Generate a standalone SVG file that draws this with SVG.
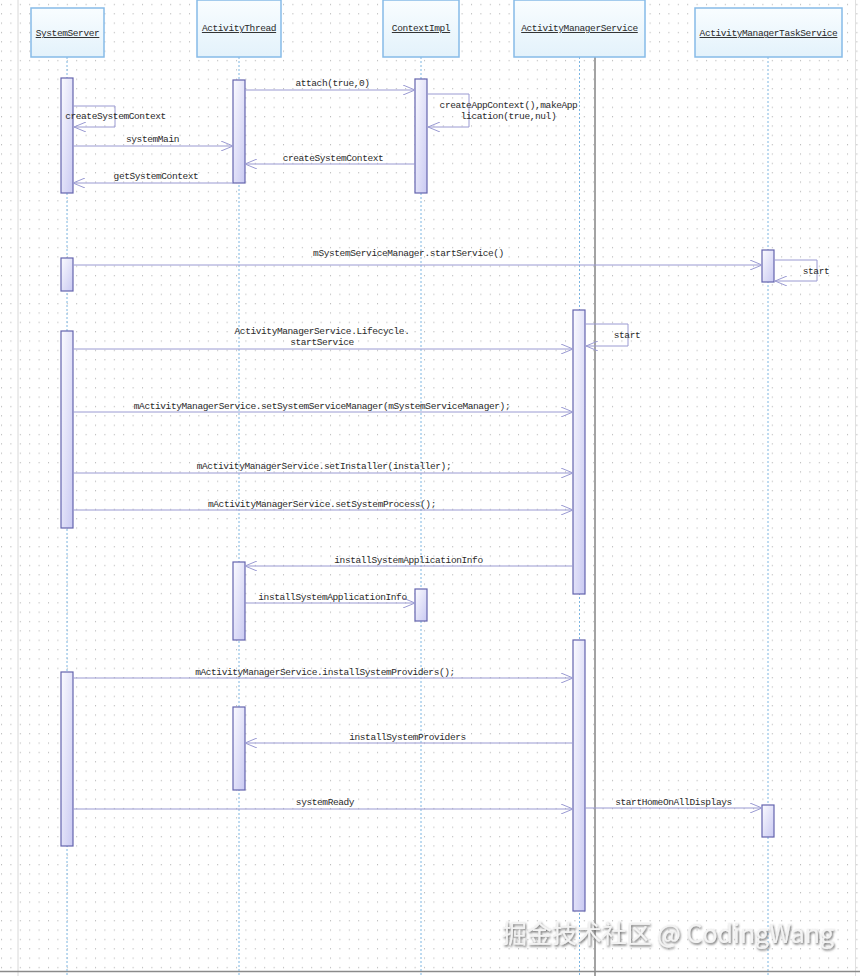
<svg xmlns="http://www.w3.org/2000/svg" width="860" height="976" viewBox="0 0 860 976">
<defs>
<pattern id="dots" x="1" y="1" width="9.4" height="9.35" patternUnits="userSpaceOnUse">
<rect x="0" y="3" width="1" height="1" fill="#a9a9a9"/>
</pattern>
<linearGradient id="barFill" x1="0" y1="0" x2="1" y2="1">
<stop offset="0" stop-color="#fbfbff"/>
<stop offset="1" stop-color="#c9c9f2"/>
</linearGradient>
<linearGradient id="headFill" x1="0" y1="0" x2="0" y2="1">
<stop offset="0" stop-color="#f9fdff"/>
<stop offset="1" stop-color="#e3f2fb"/>
</linearGradient>
<marker id="open" viewBox="0 0 12 10" refX="12" refY="5" markerWidth="12" markerHeight="10" markerUnits="userSpaceOnUse" orient="auto">
<path d="M0,0 L12,5 L0,10" fill="none" stroke="#9a9ad2" stroke-width="1"/>
</marker>
<filter id="shadow" x="-5%" y="-20%" width="110%" height="150%">
<feDropShadow dx="1" dy="1.5" stdDeviation="0.8" flood-color="#555" flood-opacity="0.9"/>
</filter>
</defs>
<style>
.head{fill:url(#headFill);stroke:#86bbe8;stroke-width:1.5}
.bar{fill:url(#barFill);stroke:#6464ae;stroke-width:1.2}
.life{stroke:#7db6e2;stroke-width:1;stroke-dasharray:2,2;fill:none}
.msg{stroke:#9a9ad2;stroke-width:1;fill:none;marker-end:url(#open)}
.t{font-family:"Liberation Mono",monospace;font-size:9.5px;letter-spacing:-0.4px;fill:#2a2a2a;text-anchor:middle}
.h{text-decoration:underline}
</style>
<rect x="0" y="0" width="860" height="976" fill="#ffffff"/>
<rect x="0" y="0" width="860" height="976" fill="url(#dots)"/>
<line x1="18" y1="0" x2="18" y2="976" stroke="#d8d8d8" stroke-width="1"/>
<line x1="855.5" y1="0" x2="855.5" y2="976" stroke="#e0e0e0" stroke-width="1"/>
<line x1="595" y1="57" x2="595" y2="976" stroke="#a3a3a3" stroke-width="2"/>
<line x1="0" y1="971.5" x2="860" y2="971.5" stroke="#8a8a8a" stroke-width="1.5"/>

<g id="SystemServer">
<line class="life" x1="67" y1="57" x2="67" y2="976"/>
<rect class="head" x="31" y="8" width="73" height="49"/>
<text class="t h" x="67.5" y="36">SystemServer</text>
<rect class="bar" x="61" y="78" width="12" height="115"/>
<rect class="bar" x="61" y="258" width="12" height="33"/>
<rect class="bar" x="61" y="331" width="12" height="197"/>
<rect class="bar" x="61" y="672" width="12" height="174"/>
</g>
<g id="ActivityThread">
<line class="life" x1="239" y1="57" x2="239" y2="976"/>
<rect class="head" x="197" y="0" width="84" height="57"/>
<text class="t h" x="239" y="31">ActivityThread</text>
<rect class="bar" x="233" y="80" width="12" height="103"/>
<rect class="bar" x="233" y="562" width="12" height="78"/>
<rect class="bar" x="233" y="707" width="12" height="83"/>
</g>
<g id="ContextImpl">
<line class="life" x1="421" y1="57" x2="421" y2="976"/>
<rect class="head" x="383" y="0" width="76" height="57"/>
<text class="t h" x="421" y="31">ContextImpl</text>
<rect class="bar" x="415" y="79" width="12" height="114"/>
<rect class="bar" x="415" y="589" width="12" height="32"/>
</g>
<g id="ActivityManagerService">
<line class="life" x1="579.5" y1="57" x2="579.5" y2="976"/>
<rect class="head" x="514" y="0" width="131" height="57"/>
<text class="t h" x="579.5" y="31">ActivityManagerService</text>
<rect class="bar" x="573" y="310" width="12" height="284"/>
<rect class="bar" x="573" y="640" width="12" height="271"/>
</g>
<g id="ActivityManagerTaskService">
<line class="life" x1="768" y1="57" x2="768" y2="976"/>
<rect class="head" x="695" y="8" width="147" height="49"/>
<text class="t h" x="768.5" y="36">ActivityManagerTaskService</text>
<rect class="bar" x="762" y="250" width="12" height="32"/>
<rect class="bar" x="762" y="805" width="12" height="32"/>
</g>

<g id="connectors">
<polyline class="msg" points="73,106 115,106 115,127 74,127"/>
<line class="msg" x1="73" y1="146" x2="233" y2="146"/>
<line class="msg" x1="245" y1="90" x2="415" y2="90"/>
<polyline class="msg" points="427,94 469,94 469,127 428,127"/>
<line class="msg" x1="415" y1="164" x2="245" y2="164"/>
<line class="msg" x1="233" y1="183" x2="73" y2="183"/>
<line class="msg" x1="73" y1="265" x2="762" y2="265"/>
<polyline class="msg" points="774,260 817,260 817,281 775,281"/>
<polyline class="msg" points="585,324 628,324 628,346 586,346"/>
<line class="msg" x1="73" y1="349" x2="573" y2="349"/>
<line class="msg" x1="73" y1="412" x2="573" y2="412"/>
<line class="msg" x1="73" y1="473" x2="573" y2="473"/>
<line class="msg" x1="73" y1="510" x2="573" y2="510"/>
<line class="msg" x1="573" y1="566" x2="245" y2="566"/>
<line class="msg" x1="245" y1="603" x2="415" y2="603"/>
<line class="msg" x1="73" y1="678" x2="573" y2="678"/>
<line class="msg" x1="573" y1="743" x2="245" y2="743"/>
<line class="msg" x1="73" y1="809" x2="573" y2="809"/>
<line class="msg" x1="585" y1="808" x2="762" y2="808"/>

<text class="t" x="115.5" y="119">createSystemContext</text>
<text class="t" x="152.5" y="142">systemMain</text>
<text class="t" x="332.5" y="86">attach(true,0)</text>
<text class="t" x="508.5" y="108">createAppContext(),makeApp</text>
<text class="t" x="508.5" y="119">lication(true,nul)</text>
<text class="t" x="333" y="161">createSystemContext</text>
<text class="t" x="156" y="179">getSystemContext</text>
<text class="t" x="408.5" y="256">mSystemServiceManager.startService()</text>
<text class="t" x="816" y="274">start</text>
<text class="t" x="627" y="338">start</text>
<text class="t" x="322" y="334">ActivityManagerService.Lifecycle.</text>
<text class="t" x="322" y="345">startService</text>
<text class="t" x="322" y="409">mActivityManagerService.setSystemServiceManager(mSystemServiceManager);</text>
<text class="t" x="324" y="469">mActivityManagerService.setInstaller(installer);</text>
<text class="t" x="322" y="507">mActivityManagerService.setSystemProcess();</text>
<text class="t" x="408.5" y="563">installSystemApplicationInfo</text>
<text class="t" x="332.5" y="600">installSystemApplicationInfo</text>
<text class="t" x="325" y="675">mActivityManagerService.installSystemProviders();</text>
<text class="t" x="407.5" y="740">installSystemProviders</text>
<text class="t" x="325" y="805">systemReady</text>
<text class="t" x="673.5" y="805">startHomeOnAllDisplays</text>
</g>

<text x="502" y="943" font-family="'Noto Sans CJK SC','Noto Sans',sans-serif" font-size="25" textLength="332" lengthAdjust="spacingAndGlyphs" fill="#f3f3f3" filter="url(#shadow)">掘金技术社区 @ CodingWang</text>
</svg>
